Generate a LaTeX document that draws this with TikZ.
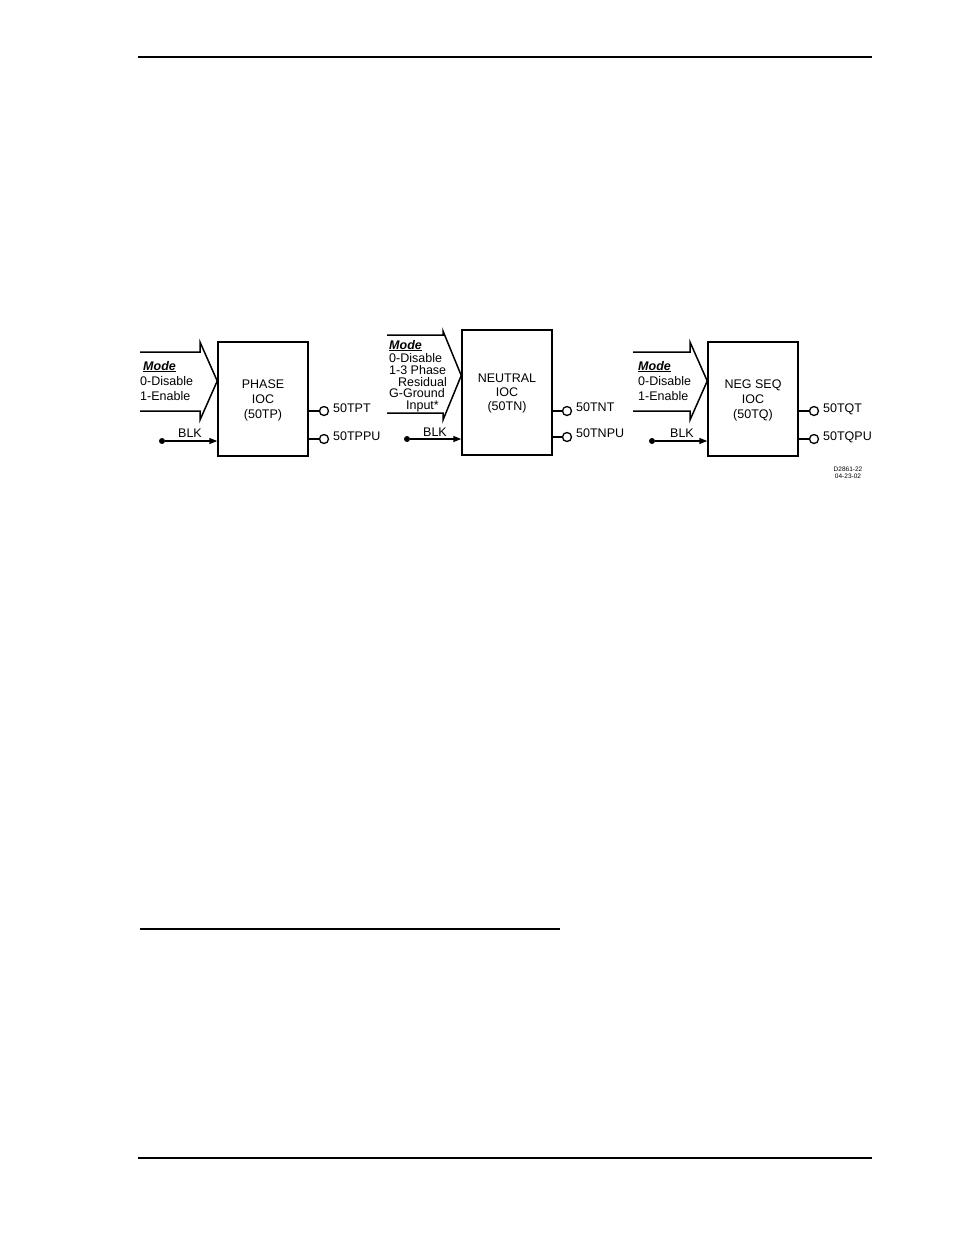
\documentclass[tikz,border=0pt]{standalone}
\usepackage{fontspec}
\setmainfont{Liberation Sans}
\usetikzlibrary{arrows.meta}
\begin{document}
\begin{tikzpicture}[x=1pt,y=-1pt,
 txt/.style={font=\fontsize{12.5}{14}\selectfont, inner sep=0pt, anchor=base west},
 rtxt/.style={font=\fontsize{12.5}{14}\selectfont, inner sep=0pt, anchor=base east},
 ctxt/.style={font=\fontsize{12.5}{14}\selectfont, inner sep=0pt, anchor=base},
 smalltxt/.style={font=\fontsize{6.5}{7}\selectfont, inner sep=0pt, anchor=base},
 blockbox/.style={draw, line width=1.5pt, minimum width=90pt, inner sep=0pt},
 chev/.style={line width=1.5pt, line join=miter},
 outc/.style={circle, draw, line width=1.3pt, minimum size=9pt, inner sep=0pt},
 outline/.style={line width=1.3pt},
 dotn/.style={circle, fill, minimum size=6pt, inner sep=0pt},
 blkarrow/.style={line width=1.3pt, -{Triangle[length=8pt,width=6pt]}},
 rule/.style={line width=1.1pt}]

\useasboundingbox (0,0) rectangle (954,1235);

% page rules
\coordinate (h1) at (138,57); \coordinate (h2) at (872,57);
\draw[rule] (h1) -- (h2);
\coordinate (f1) at (138,1158); \coordinate (f2) at (872,1158);
\draw[rule] (f1) -- (f2);
\coordinate (n1) at (140,929); \coordinate (n2) at (560,929);
\draw[rule] (n1) -- (n2);

% ---------- Block 1: PHASE IOC ----------
\node[blockbox, minimum height=114pt] (b1) at (263,399) {};
\node[ctxt] (b1t1) at (263,388) {PHASE};
\node[ctxt] (b1t2) at (263,403) {IOC};
\node[ctxt] (b1t3) at (263,418) {(50TP)};
\draw[chev] (140,352) -- (200,352) -- (200,342) -- (b1.west |- 0,381) -- (200,420) -- (200,411) -- (140,411);
\node[txt] (m1a) at (143,370) {\underline{\textbf{\textit{Mode}}}};
\node[txt] (m1b) at (140,385) {0-Disable};
\node[txt] (m1c) at (140,400) {1-Enable};
\node[dotn] (d1) at (162,441) {};
\draw[blkarrow] (d1) -- (d1 -| b1.west);
\node[ctxt] (blk1) at (190,437) {BLK};
\node[outc] (o1a) at (324,411) {};
\node[outc] (o1b) at (324,439) {};
\draw[outline] (o1a -| b1.east) -- (o1a);
\draw[outline] (o1b -| b1.east) -- (o1b);
\node[txt] (l1a) at (333,412) {50TPT};
\node[txt] (l1b) at (333,440) {50TPPU};

% ---------- Block 2: NEUTRAL IOC ----------
\node[blockbox, minimum height=125pt] (b2) at (507,392.5) {};
\node[ctxt] (b2t1) at (507,382) {NEUTRAL};
\node[ctxt] (b2t2) at (507,396) {IOC};
\node[ctxt] (b2t3) at (507,410) {(50TN)};
\draw[chev] (387,335) -- (443,335) -- (443,331) -- (b2.west |- 0,375.5) -- (443,420) -- (443,413) -- (387,413);
\node[txt] (m2a) at (389,349) {\underline{\textbf{\textit{Mode}}}};
\node[txt] (m2b) at (389,362) {0-Disable};
\node[txt] (m2c) at (389,374) {1-3 Phase};
\node[rtxt] (m2d) at (447,386) {Residual};
\node[txt] (m2e) at (389,397) {G-Ground};
\node[rtxt] (m2f) at (439,409) {Input*};
\node[dotn] (d2) at (407,439) {};
\draw[blkarrow] (d2) -- (d2 -| b2.west);
\node[ctxt] (blk2) at (435,436) {BLK};
\node[outc] (o2a) at (567,411) {};
\node[outc] (o2b) at (567,437) {};
\draw[outline] (o2a -| b2.east) -- (o2a);
\draw[outline] (o2b -| b2.east) -- (o2b);
\node[txt] (l2a) at (576,411) {50TNT};
\node[txt] (l2b) at (576,437) {50TNPU};

% ---------- Block 3: NEG SEQ IOC ----------
\node[blockbox, minimum height=114pt] (b3) at (753,399) {};
\node[ctxt] (b3t1) at (753,388) {NEG SEQ};
\node[ctxt] (b3t2) at (753,403) {IOC};
\node[ctxt] (b3t3) at (753,418) {(50TQ)};
\draw[chev] (633,352) -- (690,352) -- (690,342) -- (b3.west |- 0,381) -- (690,420) -- (690,411) -- (633,411);
\node[txt] (m3a) at (638,370) {\underline{\textbf{\textit{Mode}}}};
\node[txt] (m3b) at (638,385) {0-Disable};
\node[txt] (m3c) at (638,400) {1-Enable};
\node[dotn] (d3) at (652,441) {};
\draw[blkarrow] (d3) -- (d3 -| b3.west);
\node[ctxt] (blk3) at (682,437) {BLK};
\node[outc] (o3a) at (814,411) {};
\node[outc] (o3b) at (814,439) {};
\draw[outline] (o3a -| b3.east) -- (o3a);
\draw[outline] (o3b -| b3.east) -- (o3b);
\node[txt] (l3a) at (823,412) {50TQT};
\node[txt] (l3b) at (823,440) {50TQPU};

\node[smalltxt] (id1) at (848,471) {D2861-22};
\node[smalltxt] (id2) at (848,478) {04-23-02};
\end{tikzpicture}
\end{document}
